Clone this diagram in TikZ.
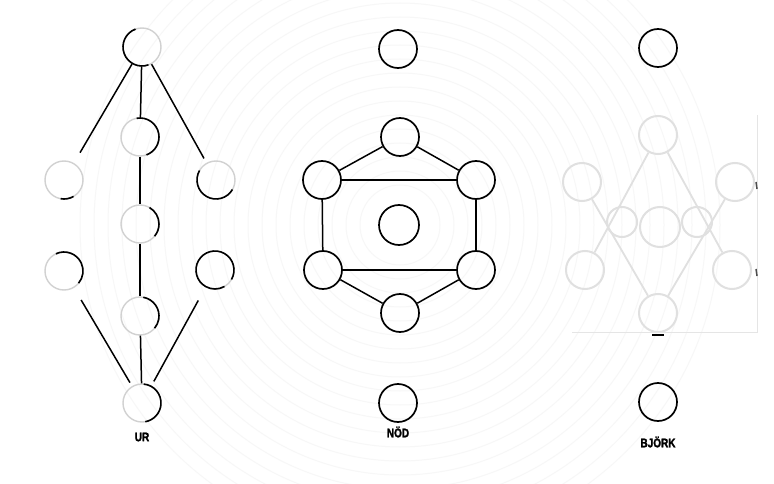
\documentclass[tikz,border=0pt]{standalone}
\usepackage{fontspec}
\setmainfont{Liberation Sans}
\newfontfamily\lblfont[FakeStretch=0.8, FakeBold=2]{Liberation Sans Bold}
\begin{document}
\begin{tikzpicture}[x=1pt,y=-1pt,
  dk/.style={circle, draw=black, line width=1.7pt, minimum size=38pt, inner sep=0pt},
  fd/.style={circle, draw=black!18, line width=1.4pt, minimum size=38pt, inner sep=0pt},
  fb/.style={circle, draw=black!12, line width=2pt, minimum size=38pt, inner sep=0pt},
  edge/.style={line width=1.5pt, draw=black},
  fedge/.style={line width=1.8pt, draw=black!12},
  arcd/.style={line width=1.6pt, draw=black},
  lbl/.style={font=\lblfont\fontsize{12.5}{12.5}\selectfont, inner sep=0pt, text=black}]
\useasboundingbox (0,0) rectangle (774,484);
\fill[white] (0,0) rectangle (774,484);
% faint background rings
\begin{scope}
\clip (0,0) rectangle (774,484);
\foreach \r in {40,54,...,320}
  \draw[black!3, line width=1pt] (400,225) circle[radius=\r];
\end{scope}

% ---------- UR ----------
\node[fd] (ut) at (142,47) {};
\node[fd] (u1) at (140,137) {};
\node[fd] (u2) at (140,224) {};
\node[fd] (u3) at (140,316) {};
\node[fd] (ub) at (142,403) {};
\node[fd] (ul1) at (64,180) {};
\node[fd] (ur1) at (216,180) {};
\node[fd] (ul2) at (64,271) {};
\node[fd] (ur2) at (215,270) {};
% visible dark arcs (angles negated because the y axis points down)
\draw[arcd] ([shift={(-110:19)}]ut.center) arc[start angle=-110, end angle=-290, radius=19];
\draw[arcd] ([shift={(-100:19)}]u1.center) arc[start angle=-100, end angle=70, radius=19];
\draw[arcd] ([shift={(-60:19)}]u2.center) arc[start angle=-60, end angle=40, radius=19];
\draw[arcd] ([shift={(-80:19)}]u3.center) arc[start angle=-80, end angle=40, radius=19];
\draw[arcd] ([shift={(-85:19)}]ub.center) arc[start angle=-85, end angle=80, radius=19];
\draw[arcd] ([shift={(-150:19)}]ur1.center) arc[start angle=-150, end angle=-330, radius=19];
\draw[arcd] ([shift={(-115:19)}]ul2.center) arc[start angle=-115, end angle=40, radius=19];
\draw[arcd] ([shift={(30:19)}]ur2.center) arc[start angle=30, end angle=-300, radius=19];
\draw[arcd] ([shift={(100:19)}]ul1.center) arc[start angle=100, end angle=60, radius=19];
% connectors
\draw[edge, shorten >=12pt] (ut) -- (ul1);
\draw[edge] (ut) -- (u1);
\draw[edge, shorten >=5pt] (ut) -- (ur1);
\draw[edge] (u1) -- (u2);
\draw[edge] (u2) -- (u3);
\draw[edge] (u3) -- (ub);
\draw[edge, shorten <=14pt, shorten >=4pt] (ul2) -- (ub);
\draw[edge, shorten <=15pt, shorten >=5pt] (ur2) -- (ub);
\node[lbl] (lur) at (142,437) {UR};

% ---------- NÖD ----------
\node[dk] (nt) at (398,49) {};
\node[dk] (h1) at (400,137) {};
\node[dk] (h2) at (322,180) {};
\node[dk] (h3) at (476,180) {};
\node[dk, minimum size=40pt] (hc) at (399,225) {};
\node[dk] (h4) at (323,270) {};
\node[dk] (h5) at (476,270) {};
\node[dk] (h6) at (400,313) {};
\node[dk] (nb) at (398,403) {};
\draw[edge] (h1) -- (h2);
\draw[edge] (h1) -- (h3);
\draw[edge] (h2) -- (h3);
\draw[edge] (h2) -- (h4);
\draw[edge] (h3) -- (h5);
\draw[edge] (h4) -- (h5);
\draw[edge] (h4) -- (h6);
\draw[edge] (h5) -- (h6);
\node[lbl] (lnod) at (398,432) {NÖD};

% ---------- BJÖRK ----------
\node[dk] (bt) at (658,48) {};
\node[fb] (b1) at (658,135) {};
\node[fb] (b2) at (582,182) {};
\node[fb] (b3) at (735,182) {};
\node[fb, minimum size=40pt] (bc) at (660,227) {};
\node[fb] (b4) at (585,270) {};
\node[fb] (b5) at (732,270) {};
\node[fb] (b6) at (658,313) {};
\node[fb, minimum size=30pt] (bl) at (622,222) {};
\node[fb, minimum size=30pt] (br) at (697,222) {};
\draw[fedge] (b1) -- (b4);
\draw[fedge] (b1) -- (b5);
\draw[fedge] (b6) -- (b2);
\draw[fedge] (b6) -- (b3);
\draw[black!10, line width=1pt] (572,332) -- (757,332) -- (757,115);
\draw[black, line width=2pt] (652,335) -- (664,335);
\draw[black!70, line width=1.5pt] (756,182) -- (757,189);
\draw[black!70, line width=1.5pt] (756,269) -- (757,276);
\node[dk] (bb) at (658,402) {};
\node[lbl] (lbj) at (658,442) {BJÖRK};
\end{tikzpicture}
\end{document}
